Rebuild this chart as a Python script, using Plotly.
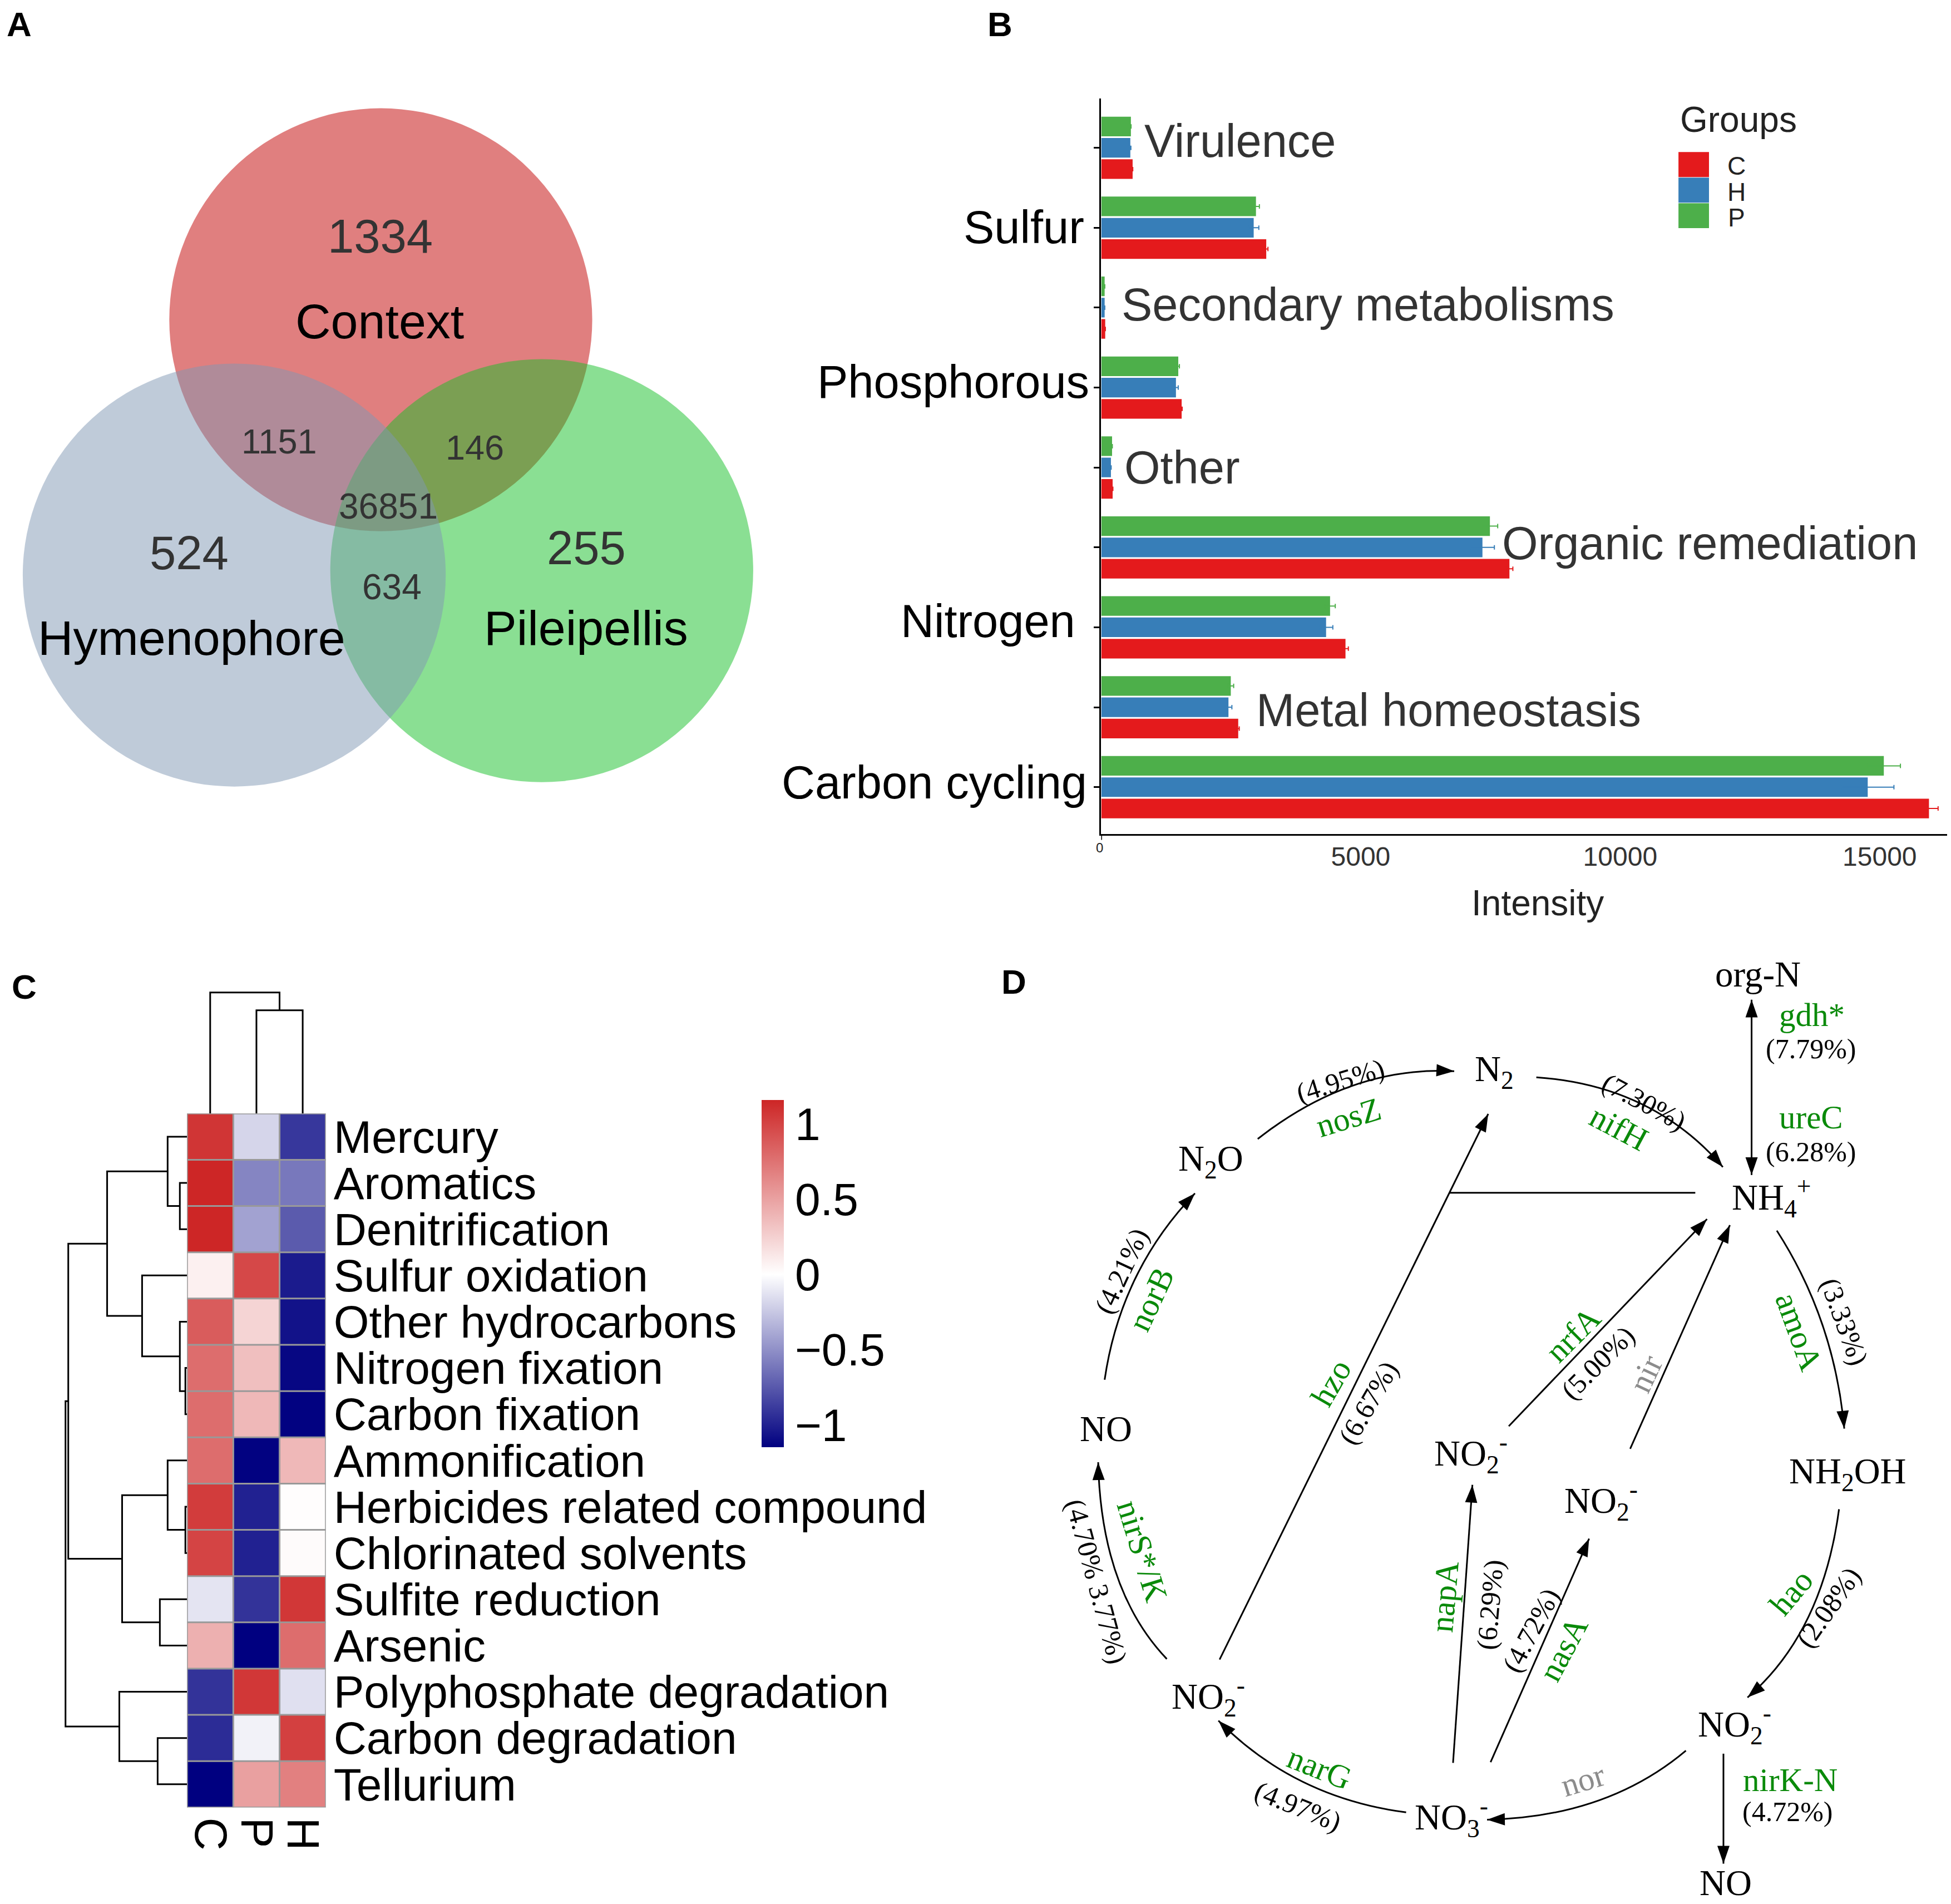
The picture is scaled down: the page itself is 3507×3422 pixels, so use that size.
import plotly.graph_objects as go

W, H = 3507, 3422
SANS = "Liberation Sans"
SERIF = "Liberation Serif"

# ---------- data ----------
venn_names = ["Context", "Hymenophore", "Pileipellis"]
venn_counts = ["1334", "524", "255", "1151", "146", "634", "36851"]

b_categories = ["Carbon cycling", "Metal homeostasis", "Nitrogen", "Organic remediation", "Other",
                "Phosphorous", "Secondary metabolisms", "Sulfur", "Virulence"]
b_C = [15950, 2640, 4707, 7866, 220, 1550, 77, 3180, 605]
b_H = [14770, 2452, 4333, 7346, 187, 1440, 66, 2938, 561]
b_P = [15080, 2497, 4410, 7490, 209, 1485, 66, 2982, 572]
b_C_err = [176, 20, 55, 66, 5, 10, 3, 33, 3]
b_H_err = [505, 66, 130, 230, 5, 44, 3, 99, 11]
b_P_err = [320, 55, 100, 150, 5, 22, 3, 66, 3]
b_ticks = [0, 5000, 10000, 15000]

c_rows = ["Mercury", "Aromatics", "Denitrification", "Sulfur oxidation", "Other hydrocarbons",
          "Nitrogen fixation", "Carbon fixation", "Ammonification", "Herbicides related compound",
          "Chlorinated solvents", "Sulfite reduction", "Arsenic", "Polyphosphate degradation",
          "Carbon degradation", "Tellurium"]
c_cols = ["C", "P", "H"]
c_col_C = [1.08, 1.16, 1.16, 0.08, 0.87, 0.78, 0.78, 0.78, 1.04, 1.00, -0.12, 0.42, -0.92, -0.95, -1.15]
c_col_P = [-0.19, -0.55, -0.42, 0.98, 0.23, 0.34, 0.38, -1.14, -1.00, -1.00, -0.92, -1.15, 1.07, -0.06, 0.51]
c_col_H = [-0.90, -0.61, -0.74, -1.03, -1.07, -1.12, -1.14, 0.38, 0.01, 0.02, 1.07, 0.78, -0.14, 1.02, 0.68]
c_z = [list(r) for r in zip(c_col_C, c_col_P, c_col_H)]
c_bar_ticks = [-1, -0.5, 0, 0.5, 1]

# row dendrogram merges: (left, right, height); ints are row indices, strs are earlier nodes
row_merges = {
    "a": (1, 2, 13), "b": (0, "a", 35), "c": (5, 6, 3), "d": (4, "c", 13), "e": (3, "d", 81),
    "f": ("b", "e", 144), "g": (8, 9, 3), "h": (7, "g", 35), "i": (10, 11, 49), "j": ("h", "i", 117),
    "k": ("f", "j", 214), "l": (13, 14, 53), "m": (12, "l", 122), "n": ("k", "m", 219),
}
col_merges = {"a": (1, 2, 186), "b": (0, "a", 218)}

# ---------- layout geometry (page pixels) ----------
bx0, bx1, by0, by1 = 1982, 3506, 173, 1499
hx0, hx1, hy0, hy1 = 335, 585, 2002, 3252
def dom_x(a, b): return [a / W, b / W]
def dom_y(a, b): return [1 - b / H, 1 - a / H]

fig = go.Figure()
shapes, annots = [], []

def text(x, y, s, size, color="black", family=SANS, angle=0, anchor="center", bold=False):
    annots.append(dict(x=x, y=y, xref="x", yref="y", text=f"<b>{s}</b>" if bold else s, showarrow=False,
                       xanchor=anchor, yanchor="middle", textangle=angle,
                       font=dict(size=size, color=color, family=family)))

# panel letters
for s, x, y in [("A", 33, 40), ("B", 1800, 40), ("C", 42, 1774), ("D", 1825, 1765)]:
    text(x, y, s, 62, bold=True)

# ---------- A: Venn ----------
for (cx, cy, r, col) in [(684, 572, 381, "rgba(193,0,0,0.5)"),
                         (974, 1024, 381, "rgba(21,191,39,0.5)"),
                         (420, 1032, 381, "rgba(127,151,179,0.5)")]:
    shapes.append(dict(type="circle", xref="x", yref="y", x0=cx - r, x1=cx + r, y0=cy - r, y1=cy + r,
                       fillcolor=col, line=dict(width=0), layer="below"))
for name, (x, y), size in zip(venn_names, [(682, 575), (343, 1145), (1054, 1127)], [88, 88, 88]):
    text(x, y, name, size)
for s, (x, y), size in zip(venn_counts,
                           [(683, 421), (339, 992), (1054, 983), (501, 791), (853, 802), (704, 1053), (698, 908)],
                           [85, 85, 85, 63, 63, 64, 64]):
    text(x, y, s, size, color="#333333")

# ---------- B: bars ----------
for name, vals, errs, col in [("C", b_C, b_C_err, "#E41A1C"), ("H", b_H, b_H_err, "#377EB8"),
                              ("P", b_P, b_P_err, "#4DAF4A")]:
    fig.add_trace(go.Bar(y=b_categories, x=vals, name=name, orientation="h", marker=dict(color=col, line=dict(width=0)),
                         error_x=dict(type="data", array=errs, color=col, thickness=2, width=4),
                         xaxis="x2", yaxis="y2", showlegend=False, hoverinfo="x+y"))
label_pos = [(1958, 1406, "right", "black"), (2259, 1275, "left", "#333333"), (1937, 1115, "right", "black"),
             (2702, 975, "left", "#333333"), (2022, 838, "left", "#333333"), (1962, 684, "right", "black"),
             (2017, 545, "left", "#333333"), (1953, 405, "right", "black"), (2058, 250, "left", "#333333")]
for cat, (x, y, a, col) in zip(b_categories, label_pos):
    text(x, y, cat, 83, color=col, anchor=a)
text(2768, 1623, "Intensity", 64, color="#222222")
text(1979, 1523, "0", 24, color="#222222")
shapes.append(dict(type="line", xref="x2", yref="paper", x0=0, x1=0, y0=1 - 1500 / H, y1=1 - 1509 / H,
                   xsizemode="scaled", line=dict(color="black", width=3)))
text(3023, 211, "Groups", 64, color="#222222", anchor="left")
for g, col, y0, ty in zip(["C", "H", "P"], ["#E41A1C", "#377EB8", "#4DAF4A"], [270, 316, 362], [295, 342, 388]):
    shapes.append(dict(type="rect", xref="x", yref="y", x0=3022, x1=3077, y0=y0, y1=y0 + 45,
                       fillcolor=col, line=dict(width=0)))
    text(3127, ty, g, 46, color="#222222")

# ---------- C: heatmap ----------
fig.add_trace(go.Heatmap(z=c_z, x=c_cols, y=c_rows, xaxis="x3", yaxis="y3", zmin=-1.15, zmax=1.16,
                         colorscale=[[0, "#000080"], [0.4978, "#FFFFFF"], [1, "#CD2626"]],
                         colorbar=dict(thicknessmode="pixels", thickness=40, lenmode="pixels", len=624,
                                       x=1370 / W, xanchor="left", y=1 - 1978 / H, yanchor="top",
                                       xpad=0, ypad=0, outlinewidth=0, tickvals=c_bar_ticks,
                                       ticktext=["\u22121", "\u22120.5", "0", "0.5", "1"],
                                       ticks="outside", ticklen=4, tickcolor="rgba(0,0,0,0)",
                                       tickfont=dict(size=82, family=SANS, color="black"))))
for i in range(len(c_rows) + 1):
    shapes.append(dict(type="line", xref="x3", yref="y3", x0=-0.5, x1=2.5, y0=i - 0.5, y1=i - 0.5,
                       line=dict(color="#999999", width=3)))
for j in range(len(c_cols) + 1):
    shapes.append(dict(type="line", xref="x3", yref="y3", x0=j - 0.5, x1=j - 0.5, y0=-0.5, y1=14.5,
                       line=dict(color="#999999", width=3)))

cell_h = (hy1 - hy0) / len(c_rows)
cell_w = (hx1 - hx0) / len(c_cols)
dx, dy = [], []
pos, hgt = {}, {}
def p_of(k, step, origin):
    return pos[k] if k in pos else origin + step * (k + 0.5)
def h_of(k):
    return hgt.get(k, 0)
for key, (l, r, h) in row_merges.items():
    yl, yr = p_of(l, cell_h, hy0), p_of(r, cell_h, hy0)
    dx += [hx0 - h_of(l), hx0 - h, hx0 - h, hx0 - h_of(r), None]
    dy += [yl, yl, yr, yr, None]
    pos[key], hgt[key] = (yl + yr) / 2, h
pos, hgt = {}, {}
for key, (l, r, h) in col_merges.items():
    xl, xr = p_of(l, cell_w, hx0), p_of(r, cell_w, hx0)
    dx += [xl, xl, xr, xr, None]
    dy += [hy0 - h_of(l), hy0 - h, hy0 - h, hy0 - h_of(r), None]
    pos[key], hgt[key] = (xl + xr) / 2, h
fig.add_trace(go.Scatter(x=dx, y=dy, mode="lines", line=dict(color="black", width=3), xaxis="x", yaxis="y",
                         showlegend=False, hoverinfo="skip"))

# ---------- D: nitrogen cycle ----------
def zx(v): return 1855 + v * 1657 / 1568
def zy(v): return 1700 + v * 1726 / 1568
GREEN, GREY = "#0A8A0A", "#8C8C8C"

nodes = [("org-N", 1240, 46), ("N<sub>2</sub>", 790, 206), ("N<sub>2</sub>O", 307, 352),
         ("NH<sub>4</sub><sup>+</sup>", 1263, 412), ("NO", 128, 790), ("NO<sub>2</sub><sup>-</sup>", 750, 830),
         ("NO<sub>2</sub><sup>-</sup>", 972, 908), ("NH<sub>2</sub>OH", 1393, 864),
         ("NO<sub>2</sub><sup>-</sup>", 303, 1228), ("NO<sub>2</sub><sup>-</sup>", 1200, 1274),
         ("NO<sub>3</sub><sup>-</sup>", 717, 1426), ("NO", 1185, 1533)]
for s, x, y in nodes:
    text(zx(x), zy(y), s, 65, family=SERIF)

def head(x1, y1, fx, fy, L=32, w=11):
    X1, Y1, FX, FY = zx(x1), zy(y1), zx(fx), zy(fy)
    d = ((X1 - FX) ** 2 + (Y1 - FY) ** 2) ** 0.5
    ux, uy = (X1 - FX) / d, (Y1 - FY) / d
    bx, by = X1 - ux * L, Y1 - uy * L
    path = f"M {X1} {Y1} L {bx - uy * w} {by + ux * w} L {bx + uy * w} {by - ux * w} Z"
    shapes.append(dict(type="path", xref="x", yref="y", path=path, fillcolor="black", line=dict(width=0)))

def arrow(x0, y0, x1, y1, ctrl=None, heads=1):
    c = f"Q {zx(ctrl[0])} {zy(ctrl[1])} " if ctrl else "L "
    shapes.append(dict(type="path", xref="x", yref="y", path=f"M {zx(x0)} {zy(y0)} {c}{zx(x1)} {zy(y1)}",
                       line=dict(color="black", width=3)))
    fx, fy = ctrl if ctrl else (x0, y0)
    if heads >= 1:
        head(x1, y1, fx, fy)
    if heads == 2:
        head(x0, y0, x1, y1)

arrow(387, 316, 722, 205, (546, 196))
arrow(862, 215, 1180, 362, (1060, 228))
arrow(1229, 375, 1229, 88, heads=2)
arrow(126, 710, 280, 405, (153, 532))
arrow(232, 1167, 115, 845, (120, 1054))
arrow(640, 1418, 320, 1268, (450, 1394))
arrow(1117, 1317, 778, 1430, (982, 1426))
arrow(1181, 1322, 1181, 1502)
arrow(1378, 922, 1222, 1230, (1350, 1124))
arrow(1272, 466, 1387, 790, (1370, 612))
arrow(322, 1168, 780, 275)
arrow(1133, 404, 714, 404, heads=0)
arrow(815, 786, 1153, 447)
arrow(1022, 823, 1192, 457)
arrow(720, 1337, 753, 882)
arrow(784, 1336, 952, 970)

genes = [("nosZ", 542, 280, -17, GREEN), ("nifH", 1003, 298, 28, GREEN), ("gdh*", 1332, 113, 0, GREEN),
         ("ureC", 1330, 280, 0, GREEN), ("norB", 205, 578, -65, GREEN), ("amoA", 1310, 632, 70, GREEN),
         ("hzo", 512, 715, -60, GREEN), ("nrfA", 925, 636, -45, GREEN), ("nir", 1048, 700, -65, GREY),
         ("hao", 1296, 1058, -50, GREEN), ("napA", 705, 1065, -85, GREEN), ("nasA", 908, 1150, -62, GREEN),
         ("nirS*/K", 190, 990, 73, GREEN), ("narG", 492, 1345, 22, GREEN), ("nor", 942, 1365, -17, GREY),
         ("nirK-N", 1295, 1365, 0, GREEN)]
percents = [("(4.95%)", 528, 220, -17), ("(7.30%)", 1045, 255, 28), ("(7.79%)", 1330, 168, 0),
            ("(6.28%)", 1330, 337, 0), ("(4.21%)", 155, 532, -65), ("(3.33%)", 1387, 615, 70),
            ("(6.67%)", 576, 748, -60), ("(5.00%)", 967, 682, -45), ("(2.08%)", 1360, 1083, -55),
            ("(6.29%)", 783, 1078, -85), ("(4.72%)", 853, 1120, -62), ("(4.70% 3.77%)", 112, 1040, 75),
            ("(4.97%)", 455, 1408, 22), ("(4.72%)", 1290, 1417, 0)]
for s, x, y, a, col in genes:
    text(zx(x), zy(y), s, 59, color=col, family=SERIF, angle=a)
for s, x, y, a in percents:
    text(zx(x), zy(y), s, 50, family=SERIF, angle=a)

# ---------- layout ----------
fig.update_layout(
    width=W, height=H, autosize=False, margin=dict(l=0, r=0, t=0, b=0, pad=0),
    paper_bgcolor="white", plot_bgcolor="rgba(0,0,0,0)", showlegend=False,
    font=dict(family=SANS, color="black"),
    barmode="group", bargap=0.2, bargroupgap=0.08,
    shapes=shapes, annotations=annots,
    xaxis=dict(domain=[0, 1], range=[0, W], visible=False, fixedrange=True),
    yaxis=dict(domain=[0, 1], range=[H, 0], visible=False, fixedrange=True),
    xaxis2=dict(domain=dom_x(bx0, bx1), range=[0, (bx1 - bx0) / 467.5 * 5000], anchor="y2",
                showline=True, linewidth=3, linecolor="black", showgrid=False, zeroline=False,
                tickvals=b_ticks, ticktext=[""] + [str(t) for t in b_ticks[1:]], ticks="",
                ticklabelstandoff=-4,
                tickfont=dict(size=48, family=SANS, color="#333333")),
    yaxis2=dict(domain=dom_y(by0, by1), range=[-0.59, 8.62], anchor="x2", type="category",
                categoryorder="array", categoryarray=b_categories,
                showline=True, linewidth=3, linecolor="black", showgrid=False, zeroline=False,
                ticks="outside", ticklen=10, tickwidth=3, tickcolor="black", showticklabels=False),
    xaxis3=dict(domain=dom_x(hx0, hx1), range=[-0.5, 2.5], anchor="y3", type="category", side="bottom",
                categoryorder="array", categoryarray=c_cols, tickmode="array", tickvals=c_cols, ticktext=c_cols,
                tickangle=90, showgrid=False, zeroline=False, ticks="", ticklabelstandoff=17,
                tickfont=dict(size=82, family=SANS, color="black")),
    yaxis3=dict(domain=dom_y(hy0, hy1), range=[14.5, -0.5], anchor="x3", type="category", side="right",
                categoryorder="array", categoryarray=c_rows, tickmode="array", tickvals=c_rows, ticktext=c_rows,
                showgrid=False, zeroline=False, ticks="", ticklabelstandoff=13,
                tickfont=dict(size=82, family=SANS, color="black")),
)

fig.write_html("out.html", config={"displayModeBar": False}, post_script="document.body.style.margin='0';")
